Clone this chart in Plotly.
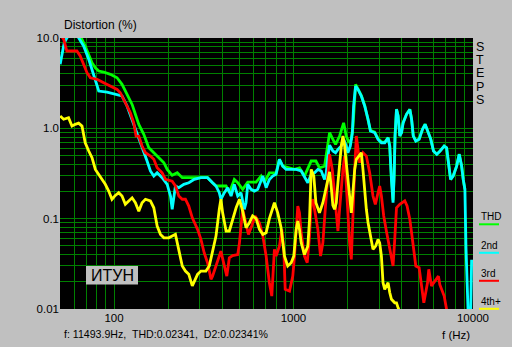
import math
import plotly.graph_objects as go

# ---------------- data ----------------
thd_f = [55, 62, 66.3, 69.1, 72.3, 75.4, 78.7, 82.2, 87.6, 95.4, 104, 110.8, 118.2, 126.1, 131.5, 137.4,
         146.5, 156.2, 166.6, 177.7, 189.6, 197.8, 210.9, 225, 240, 290.8, 332, 354, 370, 403, 421, 439,
         453, 468, 489, 521, 556, 619, 660, 688, 734, 800, 835, 871, 1013, 1080, 1151, 1202, 1255, 1333,
         1396, 1490, 1556, 1589, 1658, 1716, 1807, 1903, 1968, 2037, 2100, 2146, 2219, 2289, 2389, 2493,
         2603, 2684, 2836, 2960, 3090, 3225, 3366, 3438, 3514, 3588, 3636, 3681, 3750, 3828, 3911, 3999,
         4083, 4266, 4450, 4550, 4650, 4804, 5013, 5236, 5414, 5583, 5823, 6030, 6290, 6560, 6914, 7130,
         7280, 7507, 7762, 8110, 8385, 8650, 8830, 9020]
thd_v = [14, 11, 9.7, 8.15, 6.6, 5.33, 4.69, 4.31, 4.2, 3.96, 3.63, 3.07, 2.38, 1.84, 1.43, 1.107,
         0.859, 0.610, 0.537, 0.473, 0.416, 0.351, 0.302, 0.322, 0.284, 0.284, 0.284, 0.250, 0.230, 0.230, 0.230, 0.194,
         0.230, 0.272, 0.250, 0.211, 0.254, 0.254, 0.296, 0.250, 0.322, 0.322, 0.454, 0.382, 0.351, 0.365, 0.296, 0.365, 0.435, 0.435,
         0.365, 0.38, 0.637, 0.894, 0.755, 0.663, 0.822, 1.15, 0.822, 0.693, 0.755, 1.06, 3.07, 2.75, 2.3, 1.8,
         1.28, 0.95, 0.91, 0.77, 0.71, 0.70, 0.79, 0.64, 0.28, 0.16, 0.30, 0.83, 1.63, 1.38, 0.83, 0.90,
         1.16, 1.44, 1.63, 1.27, 0.83, 0.73, 0.76, 0.98, 1.11, 0.94, 0.76, 0.56, 0.52, 0.56, 0.64, 0.61,
         0.42, 0.27, 0.30, 0.38, 0.52, 0.38, 0.27, 0.21]

h2_f = [50.1, 51.2, 52.8, 54.1, 57, 61, 64.3, 67.7, 72.3, 75.4, 78.7, 82.2, 91.4, 101.7, 110.8, 118.2,
        126.1, 134.5, 143.3, 152.8, 159.5, 166.6, 173.9, 185.4, 197.8, 206.4, 210.9, 215.6, 219.9, 229.6, 244.9, 261.2,
        279.8, 305, 332, 354, 370, 386, 394, 412, 430, 449, 468, 489, 510, 532, 544, 556,
        580, 606, 632, 675, 704, 734, 766, 800, 835, 871, 910, 971, 1035, 1104, 1151, 1202,
        1255, 1310, 1367, 1428, 1490, 1523, 1556, 1589, 1658, 1716, 1769, 1847, 1903, 1968, 2010, 2073,
        2128, 2163, 2219, 2289, 2389, 2493, 2603, 2684, 2836, 2960, 3090, 3225, 3366, 3438, 3514, 3588,
        3636, 3681, 3750, 3828, 3911, 3999, 4083, 4266, 4450, 4550, 4650, 4804, 5013, 5236, 5414, 5583,
        5823, 6030, 6290, 6560, 6914, 7130, 7280, 7507, 7762, 8110, 8385, 8650, 8830, 9020, 9140, 9295,
        9420, 9700, 9833]
h2_v = [5.12, 6.32, 8.87, 9.7, 11.5, 11.5, 9.7, 8.15, 5.81, 4.50, 3.34, 2.59, 2.52, 2.38, 2.28, 1.77,
        1.26, 0.894, 0.637, 0.435, 0.337, 0.296, 0.322, 0.284, 0.240, 0.178, 0.127, 0.164, 0.230, 0.220, 0.240, 0.250,
        0.272, 0.284, 0.284, 0.250, 0.230, 0.194, 0.164, 0.194, 0.220, 0.178, 0.240, 0.178, 0.194, 0.127, 0.150, 0.240,
        0.211, 0.202, 0.211, 0.296, 0.220, 0.272, 0.296, 0.310, 0.454, 0.382, 0.351, 0.351, 0.351, 0.337, 0.296, 0.250,
        0.310, 0.322, 0.351, 0.337, 0.272, 0.322, 0.493, 0.65, 0.561, 0.537, 0.585, 0.637, 0.755, 0.637, 0.537, 0.637,
        0.894, 1.77, 2.94, 2.70, 2.28, 1.77, 1.26, 0.934, 0.894, 0.755, 0.693, 0.693, 0.787, 0.637, 0.272, 0.150,
        0.296, 0.822, 1.62, 1.37, 0.822, 0.894, 1.15, 1.43, 1.62, 1.26, 0.822, 0.723, 0.755, 0.975, 1.107, 0.934,
        0.755, 0.561, 0.515, 0.561, 0.637, 0.610, 0.416, 0.272, 0.296, 0.382, 0.515, 0.382, 0.272, 0.211, 0.0497, 0.0117,
        0.008, 0.008, 0.035]

h3_f = [50, 52.4, 54.6, 62.1, 64.8, 67.7, 70.7, 73.8, 80.4, 87.6, 95.4, 104, 108.4, 113.2, 118.2, 123.3,
        128.8, 132.7, 137.4, 143.3, 149.6, 159.5, 166.6, 173.9, 185.4, 193.5, 210.9, 219.9, 229.6, 240, 250, 261,
        273, 282, 292, 305, 318, 332, 347, 354, 370, 394, 412, 425, 439, 458, 489, 500,
        521, 544, 561, 585, 611, 646, 675, 704, 734, 757, 773, 783, 800, 835, 861, 883,
        899, 950, 991, 1013, 1057, 1080, 1104, 1151, 1193, 1229, 1255, 1282, 1310, 1367, 1415, 1458,
        1503, 1556, 1589, 1645, 1694, 1732, 1769, 1807, 1847, 1886, 1928, 1968, 2010, 2055, 2100, 2146,
        2193, 2240, 2289, 2338, 2389, 2438, 2547, 2658, 2773, 2858, 2960, 3022, 3090, 3183, 3293, 3438,
        3588, 3666, 3750, 3911, 4170, 4295, 4450, 4550, 4650, 4804, 5013, 5058, 5210, 5325, 5583, 5675,
        5875, 6053, 6266, 6420, 6540, 6914, 7130]
h3_v = [11, 9.7, 7.18, 7.18, 6.32, 5.12, 4.13, 3.63, 3.49, 3.2, 2.94, 2.70, 2.48, 2.09, 1.77, 1.49,
        1.15, 0.822, 0.822, 0.637, 0.537, 0.493, 0.454, 0.366, 0.322, 0.272, 0.26, 0.230, 0.178, 0.164, 0.164, 0.138,
        0.102, 0.088, 0.0761, 0.0590, 0.0419, 0.0325, 0.0213, 0.0231, 0.0299, 0.0437, 0.0299, 0.0231, 0.0369, 0.039, 0.040, 0.054,
        0.127, 0.0902, 0.067, 0.0828, 0.107, 0.0902, 0.0641, 0.0385, 0.0195, 0.0139, 0.0275, 0.0457, 0.0385, 0.0497, 0.0761, 0.0457,
        0.0165, 0.0158, 0.0231, 0.0385, 0.138, 0.116, 0.0698, 0.0385, 0.0325, 0.0641, 0.150, 0.164, 0.127, 0.0761, 0.0385, 0.054,
        0.127, 0.296, 0.515, 0.351, 0.178, 0.107, 0.073, 0.127, 0.230, 0.351, 0.493, 0.250, 0.0902, 0.054, 0.0354, 0.150,
        0.351, 0.822, 0.585, 0.416, 0.493, 0.537, 0.493, 0.322, 0.178, 0.144, 0.194, 0.230, 0.178, 0.107, 0.073, 0.0457,
        0.0299, 0.059, 0.132, 0.144, 0.157, 0.138, 0.0982, 0.0698, 0.0497, 0.0299, 0.0286, 0.0252, 0.0165, 0.0117, 0.0195, 0.0275,
        0.018, 0.0195, 0.0213, 0.0231, 0.0186, 0.0139, 0.0099]

h4_f = [50.1, 52.4, 55.8, 58.3, 60.8, 63.5, 66.3, 69.1, 72.3, 75.4, 78.7, 82.2, 85.7, 89.4, 93.4, 97.4,
        101.7, 106.2, 110.8, 115.6, 120.8, 126.1, 131.5, 137.4, 143.3, 149.6, 159.5, 166.6, 173.9, 181.5, 189.6, 202,
        219.9, 229.6, 240, 250, 261, 273, 278.6, 292, 305, 325, 339.5, 354, 370, 386, 394, 403,
        421, 439, 458, 479, 500, 521, 544, 568, 592, 619, 646, 675, 704, 734, 783, 817,
        853, 891, 929, 971, 1004, 1035, 1057, 1080, 1104, 1151, 1202, 1229, 1255, 1298, 1333, 1396,
        1458, 1523, 1589, 1625, 1658, 1694, 1732, 1769, 1807, 1847, 1886, 1928, 1968, 2010, 2055, 2100,
        2146, 2193, 2240, 2307, 2389, 2438, 2493, 2547, 2603, 2658, 2716, 2773, 2871, 2960, 3022, 3090,
        3155, 3225, 3293, 3366, 3438, 3514, 3666, 3750, 3828, 3900]
h4_v = [1.37, 1.26, 1.31, 1.06, 1.107, 1.14, 1.06, 0.693, 0.561, 0.473, 0.351, 0.310, 0.272, 0.240, 0.202, 0.164,
        0.181, 0.194, 0.178, 0.144, 0.157, 0.170, 0.150, 0.121, 0.150, 0.164, 0.157, 0.132, 0.0828, 0.067, 0.0614, 0.0614,
        0.067, 0.0457, 0.0299, 0.0263, 0.0242, 0.018, 0.0195, 0.0242, 0.0263, 0.0263, 0.0299, 0.0419, 0.0641, 0.127, 0.164, 0.116,
        0.073, 0.073, 0.0982, 0.132, 0.164, 0.121, 0.0794, 0.0902, 0.107, 0.1, 0.0761, 0.067, 0.0698, 0.1, 0.150, 0.116,
        0.0794, 0.0385, 0.0299, 0.0325, 0.0385, 0.0761, 0.094, 0.0761, 0.054, 0.040, 0.0497, 0.0982, 0.351, 0.296, 0.150, 0.116,
        0.150, 0.230, 0.33, 0.22, 0.14, 0.127, 0.150, 0.250, 0.416, 0.637, 0.822, 0.637, 0.416, 0.250, 0.178, 0.116,
        0.211, 0.351, 0.454, 0.493, 0.537, 0.351, 0.194, 0.127, 0.0902, 0.0698, 0.054, 0.0457, 0.0497, 0.059, 0.054, 0.0385,
        0.0195, 0.0165, 0.018, 0.0195, 0.0152, 0.0128, 0.0117, 0.0117, 0.0103, 0.0095]

series_names = ["THD", "2nd", "3rd", "4th+"]
series_colors = ["#00ff00", "#00ffff", "#ff0000", "#ffff00"]

x_grid = [60, 70, 80, 90, 100, 200, 300, 400, 500, 600, 700, 800, 900,
          1000, 2000, 3000, 4000, 5000, 6000, 7000, 8000, 9000, 10000]
x_labels = {100: "100", 1000: "1000", 10000: "10000"}
y_grid = [0.01, 0.02, 0.03, 0.04, 0.05, 0.06, 0.07, 0.08, 0.09,
          0.1, 0.2, 0.3, 0.4, 0.5, 0.6, 0.7, 0.8, 0.9,
          1, 2, 3, 4, 5, 6, 7, 8, 9, 10]
y_labels = {0.01: "0.01", 0.1: "0.1", 1: "1.0", 10: "10.0"}

status_text = "f: 11493.9Hz,\u00a0 THD:0.02341,\u00a0 D2:0.02341%"

# ---------------- layout helpers ----------------
W, H = 512, 347
ML, MR, MT, MB = 60, 39, 38, 38
PW, PH = W - ML - MR, H - MT - MB


def px(x):
    return (x - ML) / PW


def py(y):
    return (H - MB - y) / PH


FONT = "Liberation Sans, Arial, sans-serif"

fig = go.Figure()
for name, color, fx, vy in zip(series_names, series_colors,
                               [thd_f, h2_f, h3_f, h4_f], [thd_v, h2_v, h3_v, h4_v]):
    fig.add_trace(go.Scatter(x=fx, y=vy, mode="lines", name=name,
                             line=dict(color=color, width=2.8), showlegend=False))

fig.update_xaxes(type="log", range=[math.log10(50), 4.0003],
                 tickvals=x_grid, ticktext=[x_labels.get(v, "") for v in x_grid],
                 showgrid=True, gridcolor="#008000", gridwidth=1.4,
                 zeroline=False, showline=False, ticks="",
                 tickfont=dict(family=FONT, size=11.5, color="black"))
fig.update_yaxes(type="log", range=[-2.0003, 1.0003],
                 tickvals=y_grid, ticktext=[y_labels.get(v, "") for v in y_grid],
                 showgrid=True, gridcolor="#008000", gridwidth=1.4,
                 zeroline=False, showline=False, ticks="",
                 tickfont=dict(family=FONT, size=11.5, color="black"))

annotations = [
    dict(text="Distortion (%)", x=px(62), y=py(25), xanchor="left", yanchor="middle",
         font=dict(size=12, color="black")),
    dict(text=status_text, x=px(62), y=py(334), xanchor="left", yanchor="middle",
         font=dict(size=10.6, color="black")),
    dict(text="f (Hz)", x=px(472), y=py(335), xanchor="right", yanchor="middle",
         font=dict(size=11.5, color="black")),
    dict(text="ИТУН", x=px(112), y=py(275.5), xanchor="center", yanchor="middle",
         font=dict(size=16, color="black")),
]
for i, ch in enumerate("STEPS"):
    annotations.append(dict(text=ch, x=px(479.5), y=py(47 + i * 13.2), xanchor="center",
                            yanchor="middle", font=dict(size=12.5, color="black")))

shapes = [dict(type="rect", xref="paper", yref="paper", x0=px(86), x1=px(138),
               y0=py(284.5), y1=py(266), fillcolor="#c0c0c0", line=dict(width=0), layer="above")]
legend_y = [217, 245.5, 273.5, 301.5]
for name, color, ly in zip(series_names, series_colors, legend_y):
    annotations.append(dict(text=name, x=px(479), y=py(ly), xanchor="left", yanchor="middle",
                            font=dict(size=10, color="black")))
    shapes.append(dict(type="line", xref="paper", yref="paper", x0=px(479), x1=px(499),
                       y0=py(ly + 7.3), y1=py(ly + 7.3), line=dict(color=color, width=2)))

for a in annotations:
    a.update(xref="paper", yref="paper", showarrow=False)

fig.update_layout(
    width=W, height=H, margin=dict(l=ML, r=MR, t=MT, b=MB, pad=0),
    paper_bgcolor="#c0c0c0", plot_bgcolor="black",
    font=dict(family=FONT, color="black"),
    annotations=annotations, shapes=shapes, showlegend=False,
)
fig.write_html("out.html")
